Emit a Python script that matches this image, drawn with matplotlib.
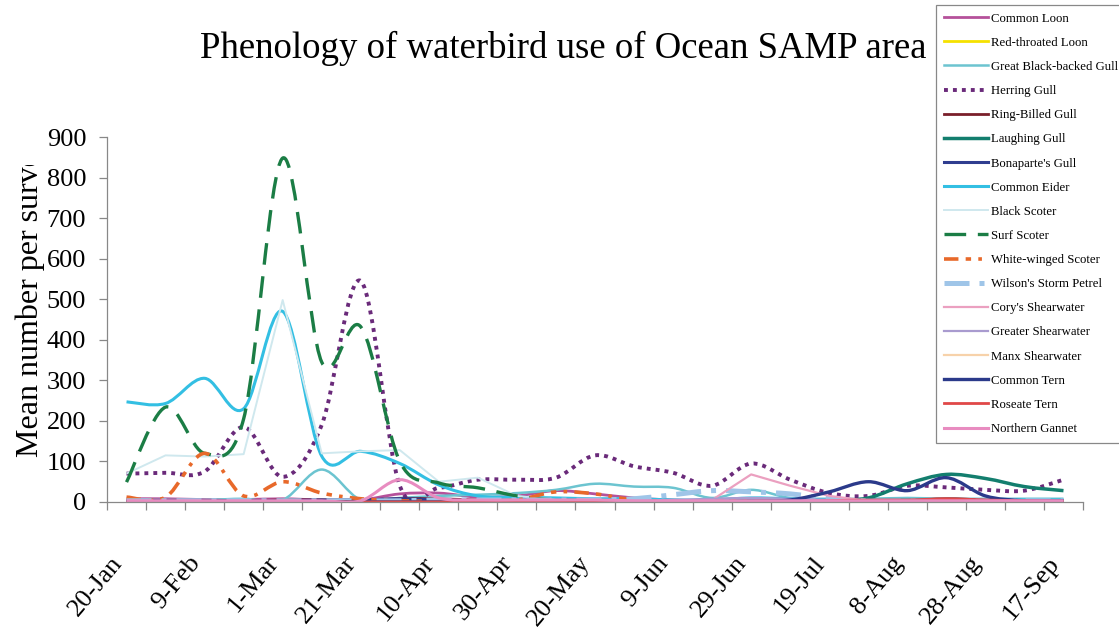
import numpy as np
import matplotlib
matplotlib.use("Agg")
import matplotlib.pyplot as plt
from matplotlib.path import Path
from matplotlib.patches import PathPatch
from matplotlib.lines import Line2D
from matplotlib.transforms import Bbox, TransformedBbox

plt.rcParams['font.family'] = ['Liberation Serif', 'DejaVu Serif']

# survey periods, 10 days apart
dates = ['20-Jan', '30-Jan', '9-Feb', '19-Feb', '1-Mar', '11-Mar', '21-Mar', '31-Mar',
         '10-Apr', '20-Apr', '30-Apr', '10-May', '20-May', '30-May', '9-Jun', '19-Jun',
         '29-Jun', '9-Jul', '19-Jul', '29-Jul', '8-Aug', '18-Aug', '28-Aug', '7-Sep', '17-Sep']

common_loon = [8, 8, 6, 6, 8, 5, 5, 20, 22, 12, 15, 28, 20, 10, 5, 3, 3, 3, 3, 3, 3, 3, 3, 3, 3]
red_throated_loon = [2, 2, 2, 2, 2, 2, 3, 5, 5, 3, 3, 3, 2, 2, 2, 2, 2, 2, 2, 2, 2, 2, 2, 2, 2]
gb_backed_gull = [5, 5, 5, 8, 5, 80, 5, 10, 15, 18, 22, 30, 45, 38, 35, 10, 30, 10, 8, 8, 10, 8, 8, 8, 8]
herring_gull = [70, 72, 75, 185, 62, 190, 545, 40, 35, 55, 55, 60, 115, 88, 72, 40, 95, 55, 22, 15, 40, 36, 30, 28, 55]
ring_billed_gull = [3, 3, 3, 3, 5, 5, 5, 8, 8, 5, 5, 3, 3, 2, 2, 2, 2, 2, 2, 2, 3, 8, 5, 3, 3]
laughing_gull = [0, 0, 0, 0, 0, 0, 0, 0, 0, 2, 3, 3, 3, 3, 3, 3, 3, 3, 3, 10, 45, 68, 58, 38, 28]
bonapartes_gull = [3, 3, 3, 3, 3, 5, 5, 8, 5, 3, 2, 2, 2, 2, 2, 2, 2, 2, 2, 2, 2, 2, 2, 2, 2]
common_eider = [247, 243, 305, 230, 470, 113, 125, 95, 42, 15, 12, 10, 8, 8, 5, 5, 10, 8, 5, 5, 5, 5, 5, 5, 5]
black_scoter = [70, 115, 112, 118, 498, 120, 125, 128, 50, 60, 15, 5, 3, 2, 2, 2, 2, 2, 2, 2, 2, 2, 2, 2, 2]
surf_scoter = [49, 234, 120, 205, 848, 345, 432, 100, 47, 35, 15, 5, 3, 2, 2, 2, 2, 2, 2, 2, 2, 2, 2, 2, 2]
ww_scoter = [12, 12, 120, 15, 50, 22, 8, 3, 2, 2, 5, 25, 20, 5, 2, 2, 2, 2, 2, 2, 2, 2, 2, 2, 2]
storm_petrel = [3, 3, 3, 3, 3, 3, 3, 3, 5, 5, 5, 5, 5, 8, 18, 28, 25, 20, 8, 3, 3, 3, 3, 3, 3]
corys_shearwater = [0, 0, 0, 0, 0, 0, 0, 0, 0, 0, 0, 0, 0, 2, 3, 5, 68, 40, 15, 3, 2, 2, 2, 2, 2]
greater_shearwater = [0, 0, 0, 0, 0, 0, 0, 0, 0, 0, 0, 0, 0, 2, 5, 8, 10, 8, 5, 3, 3, 3, 2, 2, 2]
manx_shearwater = [0, 0, 0, 0, 0, 0, 0, 0, 0, 0, 0, 0, 0, 2, 2, 2, 2, 2, 2, 2, 2, 2, 2, 2, 2]
common_tern = [0, 0, 0, 0, 0, 0, 0, 0, 0, 0, 0, 0, 0, 0, 0, 0, 2, 5, 25, 50, 28, 60, 15, 3, 3]
roseate_tern = [0, 0, 0, 0, 0, 0, 0, 0, 0, 0, 0, 0, 0, 0, 0, 0, 0, 0, 3, 5, 5, 8, 5, 3, 2]
northern_gannet = [3, 3, 3, 3, 3, 3, 3, 55, 10, 5, 5, 5, 5, 3, 3, 3, 3, 3, 3, 3, 3, 3, 3, 3, 3]

# (label, values, colour, width, dash pattern, smoothed)
series = [
    ('Common Loon', common_loon, '#b5519a', 2.0, None, True),
    ('Red-throated Loon', red_throated_loon, '#f5e100', 2.0, None, True),
    ('Great Black-backed Gull', gb_backed_gull, '#6cc4d0', 1.8, None, True),
    ('Herring Gull', herring_gull, '#6a2a7a', 2.8, (1.0, 1.3), True),
    ('Ring-Billed Gull', ring_billed_gull, '#7a1f2a', 2.0, None, True),
    ('Laughing Gull', laughing_gull, '#137e6e', 2.5, None, True),
    ("Bonaparte's Gull", bonapartes_gull, '#2f3d8f', 2.2, None, True),
    ('Common Eider', common_eider, '#33bfe3', 2.2, None, True),
    ('Black Scoter', black_scoter, '#cfe8ee', 1.4, None, False),
    ('Surf Scoter', surf_scoter, '#1b7d45', 2.4, (6.5, 3.5), True),
    ('White-winged Scoter', ww_scoter, '#e8692a', 2.6, (4.0, 2.0, 1.5, 2.0, 1.0, 2.0), True),
    ("Wilson's Storm Petrel", storm_petrel, '#9fc5e8', 3.6, (5.0, 2.0, 1.0, 2.0), True),
    ("Cory's Shearwater", corys_shearwater, '#eba0c0', 1.6, None, False),
    ('Greater Shearwater', greater_shearwater, '#a99bcf', 1.6, None, True),
    ('Manx Shearwater', manx_shearwater, '#f7d2aa', 1.6, None, True),
    ('Common Tern', common_tern, '#2b3a8a', 2.4, None, True),
    ('Roseate Tern', roseate_tern, '#e04848', 2.0, None, True),
    ('Northern Gannet', northern_gannet, '#e88cc0', 2.2, None, True),
]


def curve(x, y, smooth):
    pts = np.column_stack([x, y]).astype(float)
    if not smooth:
        return Path(pts)
    n = len(pts)
    verts = [pts[0]]
    codes = [Path.MOVETO]
    for i in range(n - 1):
        p0 = pts[max(i - 1, 0)]
        p1 = pts[i]
        p2 = pts[i + 1]
        p3 = pts[min(i + 2, n - 1)]
        verts += [p1 + (p2 - p0) / 6, p2 - (p3 - p1) / 6, p2]
        codes += [Path.CURVE4] * 3
    return Path(verts, codes)


fig = plt.figure(figsize=(11.19, 6.42), dpi=100)
ax = fig.add_axes([107 / 1119, 1 - 502 / 642, 976 / 1119, 365 / 642])

x = np.arange(len(dates))
handles = []
for name, vals, color, lw, dashes, smooth in series:
    ls = (0, dashes) if dashes else '-'
    ax.add_patch(PathPatch(curve(x, vals, smooth), fill=False, edgecolor=color,
                           lw=lw, linestyle=ls, capstyle='butt', joinstyle='round'))
    handles.append(Line2D([], [], color=color, lw=lw, linestyle=ls, label=name))

ax.set_xlim(-0.5, len(dates) - 0.5)
ax.set_ylim(0, 900)
ax.set_yticks(np.arange(0, 901, 100))

# tick marks between periods, labels on every other period
ax.set_xticks(np.arange(-0.5, len(dates), 1.0))
ax.set_xticklabels([])
ax.set_xticks(x[::2], dates[::2], minor=True)
ax.tick_params(axis='x', which='major', direction='out', length=6, width=0.9, color='#888888')
ax.tick_params(axis='x', which='minor', length=0, pad=36, labelsize=19, labelrotation=50)
for lab in ax.get_xticklabels(minor=True):
    lab.set_ha('right')
ax.tick_params(axis='y', direction='out', length=6, width=0.9, color='#888888',
               labelsize=19, pad=9)

for side in ['top', 'right']:
    ax.spines[side].set_visible(False)
for side in ['left', 'bottom']:
    ax.spines[side].set_color('#888888')
    ax.spines[side].set_linewidth(0.9)

fig.text(563 / 1119, 1 - 58 / 642, 'Phenology of waterbird use of Ocean SAMP area',
         ha='center', va='baseline', fontsize=26.5)

# axis title, cut off at the top by its box
ylab = fig.text(30 / 1119, 1 - 457 / 642, 'Mean number per survey', rotation=90,
                ha='center', va='bottom', fontsize=23)
ylab.set_clip_box(TransformedBbox(Bbox([[0, 0], [0.1, 1 - 165 / 642]]), fig.transFigure))
ylab.set_clip_on(True)

leg = fig.legend(handles=handles, loc='upper left', bbox_to_anchor=(936 / 1119, 1 - 5 / 642),
                 fontsize=9.2, frameon=True, fancybox=False, framealpha=1,
                 edgecolor='#888888', handlelength=3.5, handletextpad=0.2,
                 labelspacing=0.95, borderpad=0.6, borderaxespad=0)
leg.get_frame().set_linewidth(0.9)

fig.savefig('out.png', dpi=100)
